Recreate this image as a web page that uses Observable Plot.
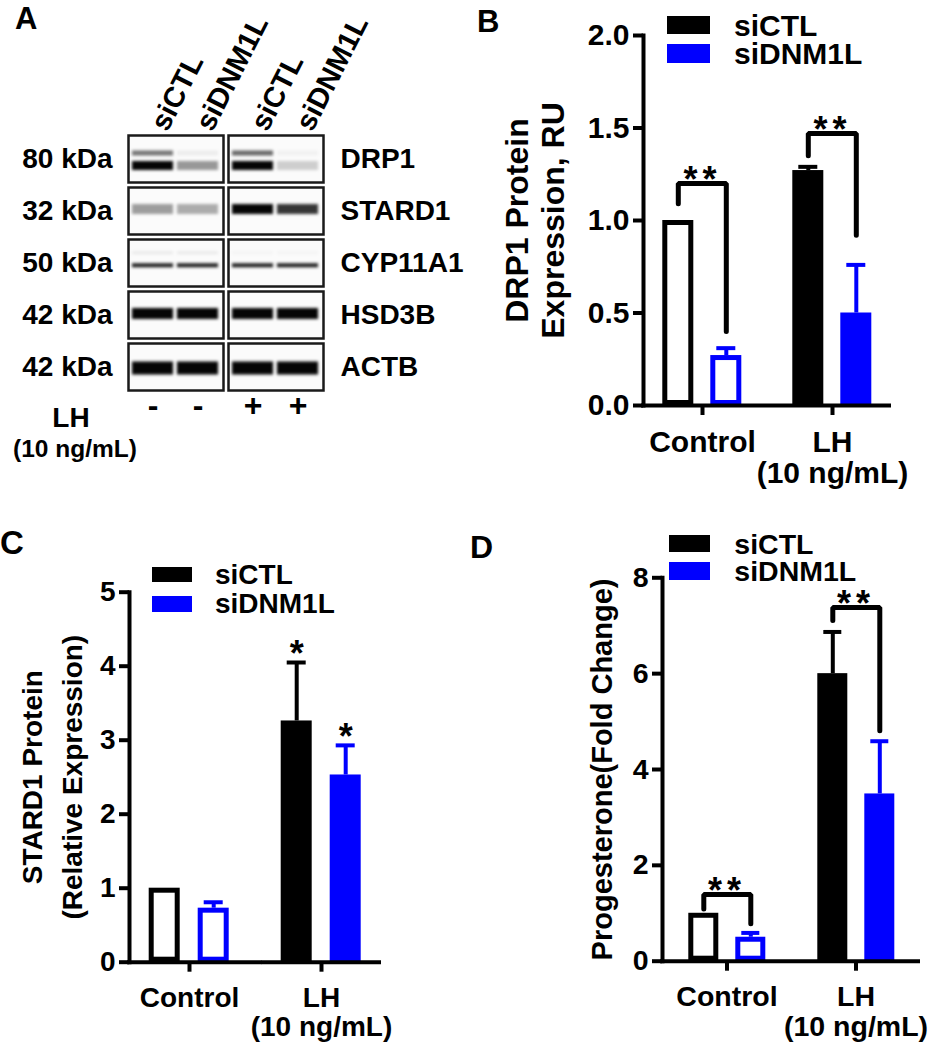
<!DOCTYPE html>
<html><head><meta charset="utf-8">
<script src="https://cdn.jsdelivr.net/npm/d3@7"></script>
<script src="https://cdn.jsdelivr.net/npm/@observablehq/plot@0.6"></script>
<style>
body{margin:0;background:#fff;}
#fig{position:relative;width:928px;height:1050px;overflow:hidden;font-family:"Liberation Sans",Arial,sans-serif;font-weight:bold;color:#000;background:#fff;}
.abs{position:absolute;white-space:nowrap;line-height:1;}
.leg{line-height:0.85;}
.band{filter:blur(1.4px);}
.stars text{letter-spacing:5px;}
</style></head><body><div id="fig"></div>
<script>
// ---------------- DATA ----------------
const series = ["siCTL", "siDNM1L"];
const seriesColors = ["#000000", "#0000ff"];
const groups = ["Control", "LH"];
const groupLabels = ["Control", "LH\n(10 ng/mL)"];

// Panel B: DRP1 protein (order: Control-siCTL, Control-siDNM1L, LH-siCTL, LH-siDNM1L)
const drp1Mean = [1.00, 0.27, 1.27, 0.50];
const drp1Err  = [0.00, 0.04, 0.02, 0.26];
const drp1Ticks = [0, 0.5, 1, 1.5, 2];
const drp1BracketGroup = ["Control", "LH"];
const drp1BracketTop   = [1.20, 1.47];
const drp1BracketLeft  = [1.09, 1.35];
const drp1BracketRight = [0.40, 0.92];
const drp1BracketText  = ["**", "**"];

// Panel C: STARD1 protein
const stardMean = [1.00, 0.73, 3.26, 2.53];
const stardErr  = [0.00, 0.08, 0.79, 0.40];
const stardTicks = [0, 1, 2, 3, 4, 5];
const stardStarGroup  = ["LH", "LH"];
const stardStarSeries = ["siCTL", "siDNM1L"];
const stardStarText   = ["*", "*"];

// Panel D: Progesterone
const progMean = [1.00, 0.50, 6.00, 3.49];
const progErr  = [0.00, 0.09, 0.87, 1.10];
const progTicks = [0, 2, 4, 6, 8];
const progBracketGroup = ["Control", "LH"];
const progBracketTop   = [1.39, 7.38];
const progBracketLeft  = [1.09, 7.11];
const progBracketRight = [0.78, 4.81];
const progBracketText  = ["**", "**"];

// Panel A: western blot
const lhStates = ["-", "+"];
const proteins = ["DRP1", "STARD1", "CYP11A1", "HSD3B", "ACTB"];
const kda = ["80 kDa", "32 kDa", "50 kDa", "42 kDa", "42 kDa"];
// bands: protein, relative migration inside the strip (0 top .. 1 bottom), intensity per lane (-/siCTL, -/siDNM1L, +/siCTL, +/siDNM1L)
const bandProtein = ["DRP1", "DRP1", "STARD1", "CYP11A1", "CYP11A1", "HSD3B", "ACTB"];
const bandPos     = [0.37, 0.64, 0.46, 0.28, 0.55, 0.47, 0.52];
const bandIntensity = [
  [0.55, 0.06, 0.60, 0.04],
  [1.00, 0.40, 1.00, 0.18],
  [0.38, 0.32, 1.00, 0.80],
  [0.07, 0.07, 0.03, 0.03],
  [0.90, 0.90, 0.90, 0.90],
  [1.00, 1.00, 1.00, 1.00],
  [1.00, 1.00, 1.00, 1.00]
];

// ---------------- HELPERS ----------------
const fig = document.getElementById("fig");
const FONT = "Liberation Sans, Arial, sans-serif";
function place(node, left, top) {
  node.style.position = "absolute";
  node.style.left = left + "px";
  node.style.top = top + "px";
  fig.appendChild(node);
  return node;
}
function htmlText(txt, left, top, size, opts = {}) {
  const d = document.createElement("div");
  d.className = "abs" + (opts.cls ? " " + opts.cls : "");
  d.textContent = txt;
  d.style.fontSize = size + "px";
  if (opts.width) { d.style.width = opts.width + "px"; d.style.textAlign = "center"; }
  return place(d, left, top);
}
function legend(x, top, w, h, pitch, textX, fs) {
  series.forEach((s, i) => {
    const r = document.createElement("div");
    r.style.width = w + "px"; r.style.height = h + "px"; r.style.background = seriesColors[i];
    place(r, x, top + i * pitch);
    htmlText(s, textX, top + i * pitch + h / 2 - 0.4135 * fs, fs, {cls: "leg"});
  });
}
function makeRows(mean, err) {
  return groups.flatMap((g, gi) => series.map((s, si) => ({group: g, series: s, value: mean[gi * 2 + si], err: err[gi * 2 + si]})));
}

function barChart(cfg) {
  const rows = makeRows(cfg.mean, cfg.err);
  const hollow = rows.filter(d => d.group === groups[0]);
  const solid = rows.filter(d => d.group !== groups[0]);
  const withErr = rows.filter(d => d.err > 0);
  const marks = [
    Plot.barY(hollow, {fx: "group", x: "series", y: "value", fill: "white", stroke: "series", strokeWidth: 5, inset: 2.5}),
    Plot.barY(solid, {fx: "group", x: "series", y: "value", fill: "series"}),
    Plot.ruleX(withErr, {fx: "group", x: "series", y1: "value", y2: d => d.value + d.err, stroke: "series", strokeWidth: 4}),
    Plot.tickY(withErr, {fx: "group", x: "series", y: d => d.value + d.err, stroke: "series", strokeWidth: 4, insetLeft: 6, insetRight: 6}),
    Plot.ruleY([0], {strokeWidth: 4, facetAnchor: "left", insetLeft: -2, insetRight: -cfg.gap}),
    Plot.ruleY([0], {strokeWidth: 4, facetAnchor: "right"}),
    Plot.frame({anchor: "left", facetAnchor: "left", strokeWidth: 4}),
    Plot.axisY({ticks: cfg.ticks, tickFormat: cfg.format, tickSize: 10, tickPadding: 4, strokeWidth: 4, label: null}),
    Plot.text([cfg.label], {text: d => d, frameAnchor: "left", facetAnchor: "left", rotate: -90, lineAnchor: "top",
      textAnchor: "middle", dx: -cfg.labelOffset, lineHeight: cfg.labelLineHeight, fontSize: cfg.labelFs}),
    Plot.axisFx({anchor: "bottom", tickSize: 10, tickPadding: 14, strokeWidth: 4, label: null,
      tickFormat: g => groupLabels[groups.indexOf(g)], lineHeight: 1.05})
  ];
  if (cfg.brackets) {
    const b = cfg.brackets;
    const pts = b.group.flatMap((g, i) => [
      {group: g, series: series[0], y: b.left[i]},
      {group: g, series: series[0], y: b.top[i]},
      {group: g, series: series[1], y: b.top[i]},
      {group: g, series: series[1], y: b.right[i]}
    ]);
    const lab = b.group.map((g, i) => ({group: g, y: b.top[i], text: b.text[i]}));
    marks.push(Plot.line(pts, {fx: "group", x: "series", y: "y", z: "group", stroke: "black", strokeWidth: 5, strokeLinejoin: "miter"}));
    marks.push(Plot.text(lab, {fx: "group", y: "y", text: "text", lineAnchor: "middle", dy: -3, fontSize: 36, className: "stars"}));
  }
  if (cfg.stars) {
    const st = cfg.stars;
    const lab = st.group.map((g, i) => {
      const r = rows.find(d => d.group === g && d.series === st.series[i]);
      return {group: g, series: st.series[i], y: r.value + r.err, text: st.text[i]};
    });
    marks.push(Plot.text(lab, {fx: "group", x: "series", y: "y", text: "text", lineAnchor: "middle", dy: -8, fontSize: 36}));
  }
  const svg = Plot.plot({
    width: cfg.width, height: cfg.height,
    marginLeft: cfg.m[0], marginRight: cfg.m[1], marginTop: cfg.m[2], marginBottom: cfg.m[3],
    fx: {domain: groups, paddingInner: cfg.fxPad, paddingOuter: 0},
    x: {domain: series, paddingInner: cfg.pi, paddingOuter: cfg.po, axis: null},
    y: {domain: cfg.domain, axis: null},
    color: {domain: series, range: seriesColors},
    style: {fontFamily: FONT, fontSize: cfg.fs + "px", fontWeight: "bold", color: "black", background: "transparent", overflow: "visible"},
    marks
  });
  return place(svg, cfg.left, cfg.top);
}

// ---------------- PANEL A ----------------
const blotLanes = lhStates.flatMap(lh => series.map(si => ({lh, si})));
const bands = bandProtein.flatMap((p, bi) => blotLanes.map((ln, li) => ({
  protein: p, band: bi, lh: ln.lh, si: ln.si, pos: bandPos[bi], intensity: bandIntensity[bi][li]
})));
const bandThickness = [5, 9, 10, 3, 4, 11, 13];
const blotSvg = Plot.plot({
  width: 470, height: 500,
  marginLeft: 128, marginRight: 147, marginTop: 134, marginBottom: 108,
  fx: {domain: lhStates, paddingInner: 0.05, paddingOuter: 0, axis: null},
  fy: {domain: proteins, paddingInner: 0.094, paddingOuter: 0, axis: null},
  x: {domain: series, paddingInner: 0.08, paddingOuter: 0.08, axis: null},
  y: {domain: [0, 1], reverse: true, axis: null},
  style: {fontFamily: FONT, fontSize: "28px", fontWeight: "bold", color: "black", background: "transparent", overflow: "visible"},
  marks: [
    Plot.frame({fill: "#fbfbfb"}),
    Plot.tickY(bands, {fx: "lh", fy: "protein", x: "si", y: "pos", stroke: "#050505",
      strokeOpacity: "intensity", strokeWidth: d => bandThickness[d.band], strokeLinecap: "butt", className: "band"}),
    Plot.frame({stroke: "#1a1a1a", strokeWidth: 2.5}),
    Plot.axisFy({anchor: "left", tickSize: 0, tickPadding: 16, label: null, tickFormat: p => kda[proteins.indexOf(p)]}),
    Plot.axisFy({anchor: "right", tickSize: 0, tickPadding: 17, label: null}),
    Plot.text(blotLanes, {fx: "lh", fy: () => proteins[0], x: "si", text: "si", frameAnchor: "top", dx: -4, dy: -12,
      rotate: -63, textAnchor: "start", fontSize: 29}),
    Plot.text(blotLanes, {fx: "lh", fy: () => proteins[proteins.length - 1], x: "si", text: "lh", frameAnchor: "bottom", dy: 25, fontSize: 32})
  ]
});
place(blotSvg, 0, 0);
htmlText("LH", 31, 404, 28, {width: 80});
htmlText("(10 ng/mL)", 5, 437, 24.5, {width: 140});

// ---------------- PANEL B ----------------
barChart({
  left: 460, top: 0, width: 468, height: 520, m: [181.7, 36.3, 35, 115],
  fxPad: 0.0916, gap: 12, pi: 0.347, po: 0.388, domain: [0, 2], ticks: drp1Ticks, format: d3.format(".1f"),
  fs: 30, label: "DRP1 Protein\nExpression, RU", labelOffset: 142, labelLineHeight: 1.15, labelFs: 32,
  mean: drp1Mean, err: drp1Err,
  brackets: {group: drp1BracketGroup, top: drp1BracketTop, left: drp1BracketLeft, right: drp1BracketRight, text: drp1BracketText}
});
legend(667, 16, 43, 18.3, 28.3, 734, 30);

// ---------------- PANEL C ----------------
barChart({
  left: 0, top: 520, width: 460, height: 530, m: [128.3, 79, 71.7, 88.3],
  fxPad: 0.094, gap: 12.4, pi: 0.36, po: 0.38, domain: [0, 5], ticks: stardTicks, format: d3.format("d"),
  fs: 28, label: "STARD1 Protein\n(Relative Expression)", labelOffset: 116, labelLineHeight: 1.43, labelFs: 28,
  mean: stardMean, err: stardErr,
  stars: {group: stardStarGroup, series: stardStarSeries, text: stardStarText}
});
legend(152, 566.7, 40.3, 15.6, 29.3, 215, 28);

// ---------------- PANEL D ----------------
barChart({
  left: 470, top: 520, width: 458, height: 530, m: [191.7, 8, 57.3, 89.3],
  fxPad: 0, gap: 0, pi: 0.354, po: 0.53, domain: [0, 8], ticks: progTicks, format: d3.format("d"),
  fs: 28.5, label: "Progesterone(Fold Change)", labelOffset: 75, labelLineHeight: 1.2, labelFs: 29,
  mean: progMean, err: progErr,
  brackets: {group: progBracketGroup, top: progBracketTop, left: progBracketLeft, right: progBracketRight, text: progBracketText}
});
legend(669.3, 535, 40.7, 17.3, 27.3, 734.3, 28.5);

// ---------------- PANEL LETTERS ----------------
htmlText("A", 15, 3, 31);
htmlText("B", 477, 6, 31);
htmlText("C", 0, 526, 33);
htmlText("D", 470, 531, 32);
</script></body></html>
